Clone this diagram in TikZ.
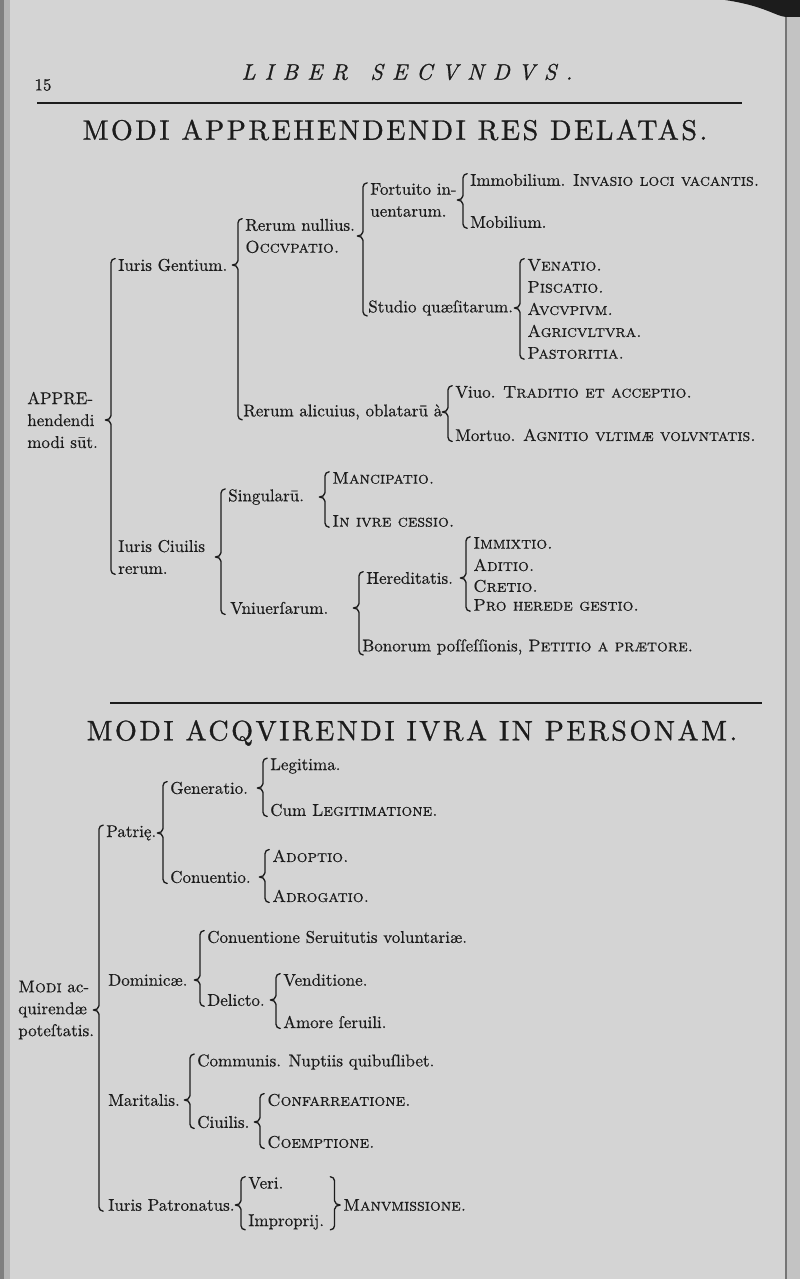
\documentclass[tikz,border=0pt]{standalone}
\usepackage{fontspec}
\setmainfont{lmroman10-regular.otf}[ItalicFont=lmroman10-italic.otf, BoldFont=lmroman10-bold.otf, SmallCapsFont=lmromancaps10-regular.otf]
\usepackage{tikz}
\usetikzlibrary{calc}

\definecolor{Paper}{HTML}{D4D4D4}
\definecolor{Ink}{HTML}{1C1C1C}

% opening brace: tip at #1, spanning the nodes #2 (top) to #3 (bottom)
\newcommand{\curly}[3]{%
  \draw[Curly] let \p1=(#2.north west), \p2=(#3.south west), \p3=(#1) in
    (\x1-2pt,\y1) to[out=180,in=90] (\x1-5pt,\y1-3pt) -- (\x1-5pt,\y3+3pt)
    to[out=-90,in=0] (\x1-9pt,\y3) to[out=0,in=90] (\x1-5pt,\y3-3pt)
    -- (\x1-5pt,\y2+3pt) to[out=-90,in=180] (\x1-2pt,\y2);}
% closing brace: tip at #1, spanning #2 to #3
\newcommand{\curlyR}[3]{%
  \draw[Curly] let \p1=(#2.north east), \p2=(#3.south east), \p3=(#1) in
    (\x3-9pt,\y1) to[out=0,in=90] (\x3-6pt,\y1-3pt) -- (\x3-6pt,\y3+3pt)
    to[out=-90,in=180] (\x3-2pt,\y3) to[out=180,in=90] (\x3-6pt,\y3-3pt)
    -- (\x3-6pt,\y2+3pt) to[out=-90,in=0] (\x3-9pt,\y2);}

\begin{document}
\begin{tikzpicture}[x=0.025cm,y=-0.025cm]
	\tikzstyle{Txt}   = [anchor=west, inner sep=0pt, text=Ink, align=left, font=\fontsize{12.1}{15.6}\selectfont\addfontfeatures{FakeBold=0.5}]
	\tikzstyle{Title} = [inner sep=0pt, text=Ink, font=\fontsize{20}{24}\selectfont\addfontfeatures{LetterSpace=9,FakeBold=1}]
	\tikzstyle{Head}  = [inner sep=0pt, text=Ink, font=\fontsize{16}{18}\selectfont\itshape\addfontfeatures{LetterSpace=40,FakeBold=0.8}]
	\tikzstyle{Curly} = [Ink, line width=0.95pt, line join=round, line cap=round]
	\tikzstyle{Rule}  = [Ink, line width=1.6pt]

	% page
	\useasboundingbox (0,0) rectangle (800,1279);
	\fill[Paper] (0,0) rectangle (800,1279);
	\fill[Paper!60!black] (0,0) rectangle (4,1279);
	\fill[Paper!85!black] (4,0) rectangle (10,1279);
	\fill[Paper!92!black] (787,0) rectangle (800,1279);
	\draw[Paper!55!black, line width=1.2pt] (786,16) -- (786,1279);
	\fill[Ink] (725,0) .. controls (765,6) and (775,16) .. (786,17) -- (800,17) -- (800,0) -- cycle;

	% head
	\node (pg) at (43,85) [Txt, anchor=center, font=\fontsize{12}{14}\selectfont\addfontfeatures{FakeBold=0.8}] {15};
	\node (hd) at (407,72) [Head] {LIBER\quad SECVNDVS.};
	\draw[Rule] (37,103) -- (742,103);
	\node (t1) at (395,130) [Title] {MODI APPREHENDENDI RES DELATAS.};

	% res delatae
	\node (ap) at (27,420) [Txt] {APPRE-\\hendendi\\modi sūt.};
	\node (ig) at (118,265) [Txt] {Iuris Gentium.};
	\node (rn) at (245,236) [Txt] {Rerum nullius.\\\textsc{Occvpatio.}};
	\node (fi) at (370,200) [Txt] {Fortuito in-\\uentarum.};
	\node (im) at (470,180) [Txt] {Immobilium. \textsc{Invasio loci vacantis.}};
	\node (mo) at (470,222) [Txt] {Mobilium.};
	\node (sq) at (368,308) [Txt] {Studio quæſitarum.};
	\foreach \n/\y/\t in {ve/265/Venatio., pi/287/Piscatio., au/309/Avcvpivm., ag/331/Agricvltvra., pa/353/Pastoritia.}
		\node (\n) at (527,\y) [Txt] {\textsc{\t}};
	\node (ra) at (243,412) [Txt] {Rerum alicuius, oblatarū à};
	\node (vi) at (455,392) [Txt] {Viuo. \textsc{Traditio et acceptio.}};
	\node (mt) at (455,435) [Txt] {Mortuo. \textsc{Agnitio vltimæ volvntatis.}};
	\node (ic) at (118,557) [Txt] {Iuris Ciuilis\\rerum.};
	\node (si) at (228,497) [Txt] {Singularū.};
	\node (ma) at (332,478) [Txt] {\textsc{Mancipatio.}};
	\node (iu) at (332,521) [Txt] {\textsc{In ivre cessio.}};
	\node (vn) at (230,608) [Txt] {Vniuerſarum.};
	\node (he) at (366,578) [Txt] {Hereditatis.};
	\foreach \n/\y/\t in {ix/543/Immixtio., di/565/Aditio., cr/586/Cretio., pr/605/Pro herede gestio.}
		\node (\n) at (473,\y) [Txt] {\textsc{\t}};
	\node (bo) at (362,647) [Txt] {Bonorum poſſeſſionis, \textsc{Petitio a prætore.}};

	\curly{ap.east}{ig}{ic}
	\curly{ig.east}{rn}{ra}
	\curly{rn.east}{fi}{sq}
	\curly{fi.east}{im}{mo}
	\curly{sq.east}{ve}{pa}
	\curly{ra.east}{vi}{mt}
	\curly{ic.east}{si}{vn}
	\curly{si.east}{ma}{iu}
	\curly{vn.east}{he}{bo}
	\curly{he.east}{ix}{pr}

	\draw[Rule, line width=1.1pt] (110,703) -- (762,703);
	\node (t2) at (412,733) [Title] {MODI ACQVIRENDI IVRA IN PERSONAM.};

	% ius in personam
	\node (md) at (18,1010) [Txt] {\textsc{Modi} ac-\\quirendæ\\poteſtatis.};
	\node (pt) at (106,833) [Txt] {Patrię.};
	\node (ge) at (170,788) [Txt] {Generatio.};
	\node (lg) at (270,766) [Txt] {Legitima.};
	\node (cl) at (270,810) [Txt] {Cum \textsc{Legitimatione.}};
	\node (co) at (170,877) [Txt] {Conuentio.};
	\node (ad) at (272,856) [Txt] {\textsc{Adoptio.}};
	\node (ar) at (272,896) [Txt] {\textsc{Adrogatio.}};
	\node (dm) at (108,980) [Txt] {Dominicæ.};
	\node (cs) at (207,937) [Txt] {Conuentione Seruitutis voluntariæ.};
	\node (de) at (207,1000) [Txt] {Delicto.};
	\node (vd) at (283,980) [Txt] {Venditione.};
	\node (am) at (283,1022) [Txt] {Amore ſeruili.};
	\node (mr) at (108,1100) [Txt] {Maritalis.};
	\node (cm) at (197,1062) [Txt] {Communis. Nuptiis quibuſlibet.};
	\node (ci) at (197,1122) [Txt] {Ciuilis.};
	\node (cf) at (267,1100) [Txt] {\textsc{Confarreatione.}};
	\node (ce) at (267,1142) [Txt] {\textsc{Coemptione.}};
	\node (ip) at (108,1205) [Txt] {Iuris Patronatus.};
	\node (vr) at (248,1183) [Txt] {Veri.};
	\node (ij) at (248,1222) [Txt] {Improprij.};
	\node (mn) at (343,1205) [Txt] {\textsc{Manvmissione.}};

	\curly{md.east}{pt}{ip}
	\curly{pt.east}{ge}{co}
	\curly{ge.east}{lg}{cl}
	\curly{co.east}{ad}{ar}
	\curly{dm.east}{cs}{de}
	\curly{de.east}{vd}{am}
	\curly{mr.east}{cm}{ci}
	\curly{ci.east}{cf}{ce}
	\curly{ip.east}{vr}{ij}
	\curlyR{mn.west}{vr}{ij}
\end{tikzpicture}
\end{document}
